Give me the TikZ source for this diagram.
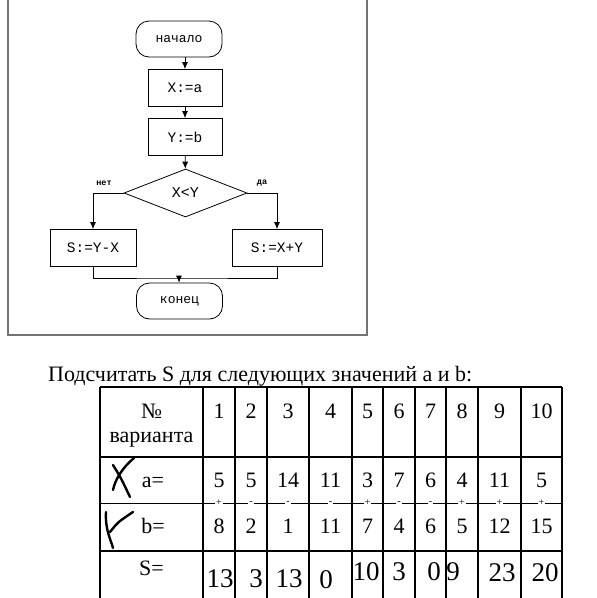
\documentclass[tikz,border=0pt]{standalone}
\usepackage{fontspec}
\setmainfont{Liberation Serif}
\newfontfamily\blockfont{Liberation Mono}
\usetikzlibrary{positioning,shapes.geometric,arrows.meta}

\begin{document}
\begin{tikzpicture}[x=1pt,y=-1pt]
\tikzstyle{term}=[draw,line width=.8pt,rounded corners=13pt,minimum width=86pt,minimum height=36pt,inner sep=0pt,font=\blockfont\fontsize{13}{13}\selectfont]
\tikzstyle{block}=[draw,line width=.8pt,minimum height=37pt,inner sep=0pt,font=\blockfont\fontsize{14.5}{14.5}\selectfont]
\tikzstyle{cond}=[draw,line width=.8pt,diamond,minimum width=123pt,minimum height=48pt,inner sep=0pt,font=\blockfont\fontsize{15}{15}\selectfont]
\tikzstyle{lab}=[inner sep=0pt,font=\blockfont\bfseries\fontsize{8.5}{8.5}\selectfont]
\tikzstyle{flow}=[-{Latex[length=7pt,width=6pt]},line width=.8pt]
\tikzstyle{cell}=[anchor=base,inner sep=0pt,font=\fontsize{22}{22}\selectfont]
\tikzstyle{res}=[anchor=base,inner sep=0pt,font=\fontsize{27}{27}\selectfont]
\tikzstyle{sign}=[fill=white,inner sep=1pt,font=\fontsize{10}{10}\selectfont]
\tikzstyle{grid}=[line width=1.6pt]
\tikzstyle{pen}=[line width=2.4pt,line cap=round]
    \useasboundingbox (0,0) rectangle (597,598);
    \draw[black!55,line width=1.3pt] (8,0) -- (8,335) -- (367,335) -- (367,0);
    \node[term] (start) at (179,39) {начало};
    \node[block,minimum width=74pt] (xa) at (185,88) {X:=a};
    \node[block,minimum width=74pt] (yb) at (185,137) {Y:=b};
    \node[cond] (cmp) at (185.5,193) {X<Y};
    \node[block,minimum width=86pt] (sub) at (93,248) {S:=Y-X};
    \node[block,minimum width=90pt] (add) at (277,248) {S:=X+Y};
    \node[term] (stop) at (179.5,301) {конец};
    \node[lab] (no) at (104,183) {нет};
    \node[lab] (yes) at (262,183) {да};
    \coordinate (join) at (179,278);
    \draw[flow] (start.south -| xa.north) to (xa.north);
    \draw[flow] (xa) to (yb);
    \draw[flow] (yb) to (cmp);
    \draw[flow] (cmp.west) -| (sub.north);
    \draw[flow] (cmp.east) -| (add.north);
    \draw[line width=.8pt] (sub.south) |- (join) -| (add.south);
    \draw[flow] (join) to (stop);

    \node[anchor=base west,inner sep=0pt,font=\fontsize{22}{22}\selectfont] (task) at (48,381) {Подсчитать S для следующих значений a и b:};
    \foreach \x in {100,203,235,267,309,352,383,415,446,478,521,562}
      \draw[grid] (\x,387) -- (\x,598);
    \foreach \y in {387,457,551}
      \draw[grid] (100,\y) -- (562,\y);
    \draw[line width=1pt] (100,503) -- (562,503);
    \node[cell] (numsign) at (151.5,418) {№};
    \node[cell] (variant) at (151.5,442) {варианта};
    \node[cell] (alab) at (153,487) {a=};
    \node[cell] (blab) at (153,533) {b=};
    \node[cell] (slab) at (151.5,575) {S=};
    \foreach \c/\n/\a/\b/\s in {219/1/5/8/+,251/2/5/2/-,288/3/14/1/-,330.5/4/11/11/-,367.5/5/3/7/+,399/6/7/4/-,430.5/7/6/6/-,462/8/4/5/+,499.5/9/11/12/+,541.5/10/5/15/+}{
      \node[cell] (n\n) at (\c,418) {\n};
      \node[cell] (a\n) at (\c,487) {\a};
      \node[cell] (b\n) at (\c,533) {\b};
      \node[sign] (m\n) at (\c,503) {\s};
    }
    \foreach \c/\n/\y/\v in {220/1/587/13,256/2/587/3,289/3/587/13,326/4/588/0,366/5/580/10,399/6/580/3,434/7/580/0,453/8/580/9,502/9/581/23,545/10/581/20}
      \node[res] (s\n) at (\c,\y) {\v};
    \draw[pen] (134,458) .. controls (122,468) and (115,480) .. (113,490);
    \draw[pen] (113,465) .. controls (121,478) .. (130,497);
    \draw[pen] (106,512) .. controls (105,530) and (111,540) .. (113,548);
    \draw[pen] (110,532) .. controls (118,522) .. (133,512);
  \end{tikzpicture}
\end{document}
